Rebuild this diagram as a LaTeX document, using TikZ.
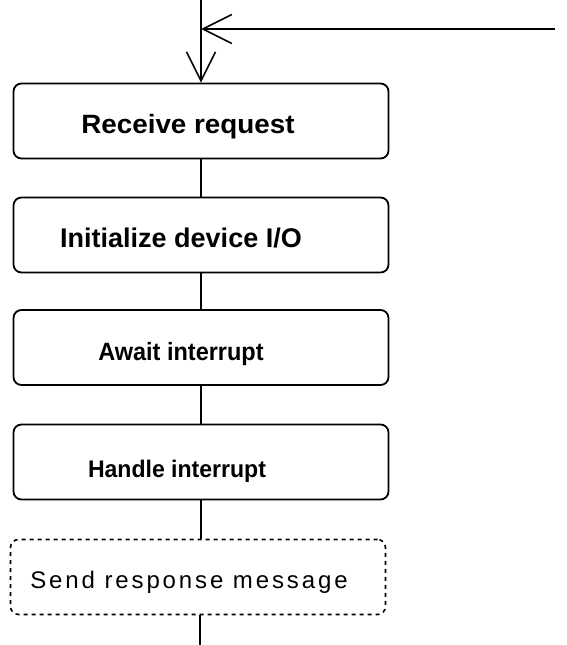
\documentclass[tikz,border=0pt]{standalone}
\usepackage{fontspec}
\setmainfont{Liberation Sans}
\newfontfamily\spacedfont[LetterSpace=12]{Liberation Sans}
\usetikzlibrary{arrows.meta}

\tikzset{
  stepbox/.style={draw, line width=1.8pt, rounded corners=8pt,
    minimum width=375pt, minimum height=75pt, inner sep=0pt},
  optbox/.style={stepbox, dash pattern=on 4pt off 4pt, line width=1.6pt},
  steptext/.style={anchor=base, inner sep=0pt},
  flow/.style={line width=1.5pt},
  vtip/.style={-{Straight Barb[length=29pt,width=29pt,line width=1.6pt]}}
}

\begin{document}
\begin{tikzpicture}[x=1pt,y=-1pt]
  \useasboundingbox (0,0) rectangle (567,645);

  % process steps
  \node[stepbox] (b1) at (201,121) {};
  \node[stepbox] (b2) at (201,235) {};
  \node[stepbox] (b3) at (201,347.5) {};
  \node[stepbox] (b4) at (201,462) {};
  \node[optbox]  (b5) at (198,577) {};

  % step labels
  \node[steptext] (t1) at (188,133)
    {\fontsize{26.5}{30}\selectfont\bfseries\scalebox{1.05}[1]{Receive request}};
  \node[steptext] (t2) at (181,247)
    {\fontsize{27}{30}\selectfont\bfseries Initialize device I/O};
  \node[steptext] (t3) at (181,360)
    {\fontsize{25}{28}\selectfont\bfseries\scalebox{0.94}[1]{Await interrupt}};
  \node[steptext] (t4) at (177,477)
    {\fontsize{24}{28}\selectfont\bfseries\scalebox{0.96}[1]{Handle interrupt}};
  \node[steptext] (t5) at (189,588)
    {\fontsize{24}{28}\selectfont\spacedfont Send response message};

  % entry and loop-back
  \coordinate (top) at (201,0);
  \coordinate (ret) at (555,29);
  \coordinate (join) at (201,29);
  \draw[flow, vtip] (top) -- (b1.north -| top);
  \draw[flow, vtip] (ret) -- (join);

  % sequence connectors
  \draw[flow] (b1.south) -- (b2.north);
  \draw[flow] (b2.south) -- (b3.north);
  \draw[flow] (b3.south) -- (b4.north);
  \draw[flow] (b4.south -| top) -- (b5.north -| top);
  \coordinate (bot) at (200,645);
  \draw[flow] (b5.south -| bot) -- (bot);
\end{tikzpicture}
\end{document}
